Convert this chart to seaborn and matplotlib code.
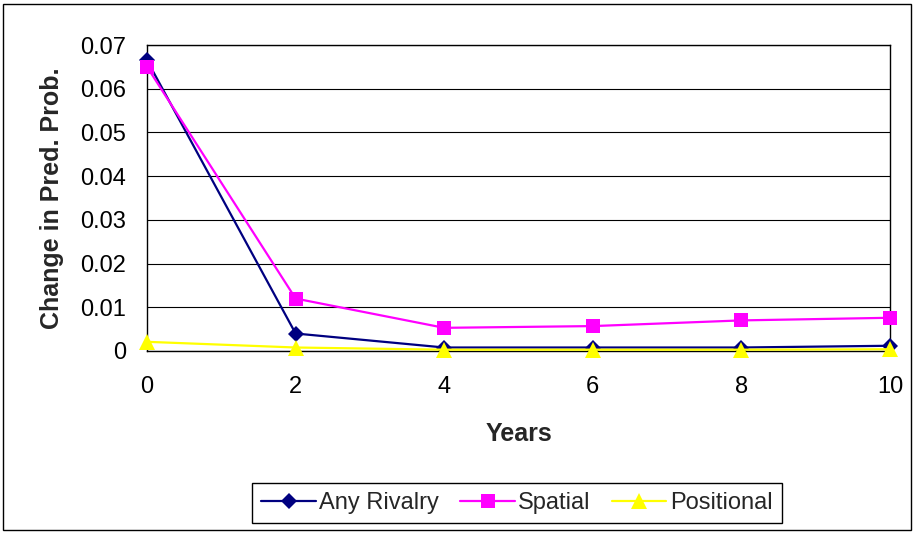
import matplotlib
matplotlib.use("Agg")
import matplotlib.pyplot as plt
import numpy as np
import pandas as pd
import seaborn as sns

## --- data
years = [0, 2, 4, 6, 8, 10]
any_rivalry = [0.0665, 0.0040, 0.0008, 0.0008, 0.0008, 0.0012]
spatial = [0.0650, 0.0120, 0.0053, 0.0057, 0.0070, 0.0076]
positional = [0.0021, 0.0008, 0.0003, 0.0003, 0.0003, 0.0004]
series_names = ["Any Rivalry", "Spatial", "Positional"]

df = pd.DataFrame({
    "Years": years * 3,
    "value": any_rivalry + spatial + positional,
    "series": np.repeat(series_names, len(years)),
})

sns.set_theme(style="white")
plt.rcParams["font.family"] = ["Liberation Sans", "DejaVu Sans"]

fig = plt.figure(figsize=(9.16, 5.34), dpi=100)
ax = fig.add_axes([0.1605, 0.3427, 0.8111, 0.573])

palette = {"Any Rivalry": "#000080", "Spatial": "#FF00FF", "Positional": "#FFFF00"}
markers = {"Any Rivalry": "D", "Spatial": "s", "Positional": "^"}
sizes = {"Any Rivalry": 8, "Spatial": 10, "Positional": 11}

for name in series_names:
    sub = df[df["series"] == name]
    sns.lineplot(data=sub, x="Years", y="value", color=palette[name],
                 marker=markers[name], markersize=sizes[name],
                 markeredgewidth=0, linewidth=1.6, label=name, ax=ax,
                 clip_on=False, zorder=3)

ax.set_xlim(0, 10)
ax.set_ylim(0, 0.07)
ax.set_xticks(years)
ax.set_yticks(np.arange(0, 0.0701, 0.01))
ax.set_yticklabels(["0"] + ["%.2f" % v for v in np.arange(0.01, 0.0701, 0.01)])
ax.yaxis.grid(True, color="black", linewidth=0.8)
ax.set_axisbelow(True)
for s in ax.spines.values():
    s.set_color("black")
    s.set_linewidth(1.0)
ax.tick_params(axis="both", direction="out", length=5, width=1, color="black",
               labelsize=17, labelcolor="black")
ax.tick_params(axis="x", pad=13)
ax.tick_params(axis="y", pad=10)
ax.set_xlabel("Years", fontsize=18, fontweight="bold", labelpad=17)
ax.set_ylabel("Change in Pred. Prob.", fontsize=18, fontweight="bold", labelpad=12)

ax.legend(loc="center", bbox_to_anchor=(0.5644, 0.058), bbox_transform=fig.transFigure,
          ncol=3, frameon=True, fancybox=False, edgecolor="black", fontsize=17,
          handlelength=2.3, handletextpad=0.15, columnspacing=0.9,
          borderpad=0.4, framealpha=1)

## --- outer border like the Excel chart area
fig.patches.append(plt.Rectangle((0.003, 0.008), 0.992, 0.985, transform=fig.transFigure,
                                 fill=False, edgecolor="black", linewidth=1.0))

fig.savefig("out.png", dpi=100)
